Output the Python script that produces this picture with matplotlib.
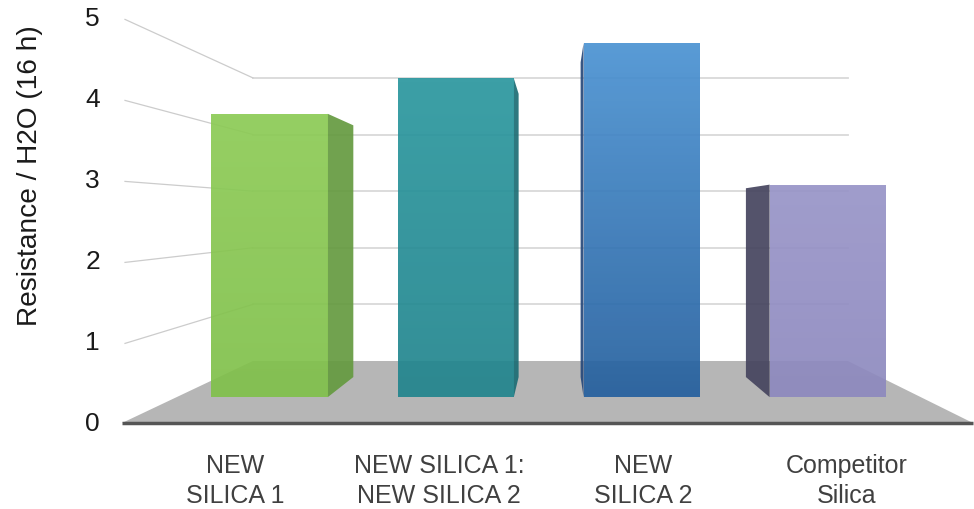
import numpy as np
import matplotlib
matplotlib.use("Agg")
import matplotlib.pyplot as plt
from matplotlib.patches import Polygon
from matplotlib.colors import LinearSegmentedColormap

# ---------------- data ----------------
categories = ["NEW\nSILICA 1", "NEW SILICA 1:\nNEW SILICA 2", "NEW\nSILICA 2", "Competitor\nSilica"]
values = [4.0, 4.5, 5.0, 3.0]
y_ticks = [0, 1, 2, 3, 4, 5]
y_label = "Resistance / H2O (16 h)"

# colours (front top, front bottom, side)
front_top = ["#8ccb55", "#2a979e", "#4a92d2", "#9894c8"]
front_bot = ["#80c04a", "#21848d", "#245f9e", "#8d89be"]
side_col = ["#659a40", "#1c6d74", "#26487a", "#45445e"]

plt.rcParams['font.family'] = ['Liberation Sans', 'DejaVu Sans']

fig = plt.figure(figsize=(9.74, 5.09), dpi=100)
ax = fig.add_axes([0, 0, 1, 1])
ax.set_xlim(0, 974)
ax.set_ylim(509, 0)
ax.axis('off')

# ---------------- perspective projection ----------------
FX0, FX1 = 122.0, 973.0      # front edge of floor (px)
FY0, FS = 423.0, 81.0        # floor front y and px per unit at front
CX, HY = 557.0, 217.0        # vanishing point
K = 0.4306                   # depth foreshortening
NCAT = len(categories)


def proj(u, v, z):
    X = FX0 + u * (FX1 - FX0) / NCAT
    Y = FY0 - v * FS
    s = 1.0 / (1.0 + K * z)
    return CX + (X - CX) * s, HY + (Y - HY) * s


def poly(pts, **kw):
    p = Polygon([proj(*q) for q in pts], closed=True, **kw)
    ax.add_patch(p)
    return p


def grad_poly(pts, c_top, c_bot, alpha, z):
    xy = np.array([proj(*q) for q in pts])
    p = Polygon(xy, closed=True, facecolor='none', edgecolor='none')
    ax.add_patch(p)
    cmap = LinearSegmentedColormap.from_list('g', [c_top, c_bot])
    x0, x1 = xy[:, 0].min(), xy[:, 0].max()
    y0, y1 = xy[:, 1].min(), xy[:, 1].max()
    grad = np.linspace(0, 1, 64).reshape(-1, 1)
    im = ax.imshow(grad, cmap=cmap, extent=(x0, x1, y1, y0), aspect='auto',
                   alpha=alpha, zorder=z, interpolation='bilinear')
    im.set_clip_path(p)


grid_c = "#d9d9d9"

# floor
poly([(0, 0, 0), (NCAT, 0, 0), (NCAT, 0, 1), (0, 0, 1)],
     facecolor="#b6b6b6", edgecolor='none', zorder=1)

# back wall + left wall gridlines
for v in y_ticks[1:]:
    xa, ya = proj(0, v, 1)
    xb, yb = proj(NCAT, v, 1)
    ax.plot([xa, xb], [ya, yb], color=grid_c, lw=1.3, zorder=2)
    xc, yc = proj(0, v, 0)
    ax.plot([xc + 3, xa], [yc + 1.4, ya], color="#cccccc", lw=0.9, zorder=2)

# front edge of floor
xa, ya = proj(0, 0, 0)
xb, yb = proj(NCAT, 0, 0)
ax.plot([xa, xb], [ya, yb], color="#555555", lw=2.5, zorder=3,
        solid_capstyle='butt')

# bars
half_w = 0.3125
z0, z1 = 1.0 / 3.0, 2.0 / 3.0
alpha = 0.92
for i, v in enumerate(values):
    ul, ur = i + 0.5 - half_w, i + 0.5 + half_w
    xl, _ = proj(ul, 0, z0)
    xr, _ = proj(ur, 0, z0)
    # visible side face
    if xr < CX:
        side = [(ur, 0, z0), (ur, 0, z1), (ur, v, z1), (ur, v, z0)]
    else:
        side = [(ul, 0, z0), (ul, 0, z1), (ul, v, z1), (ul, v, z0)]
    poly(side, facecolor=side_col[i], edgecolor='none', alpha=alpha, zorder=4)
    # top face if visible
    _, ytop = proj(ul, v, z0)
    if ytop > HY:
        poly([(ul, v, z0), (ur, v, z0), (ur, v, z1), (ul, v, z1)],
             facecolor=front_top[i], edgecolor='none', alpha=alpha, zorder=4)
    # front face
    grad_poly([(ul, 0, z0), (ur, 0, z0), (ur, v, z0), (ul, v, z0)],
              front_top[i], front_bot[i], alpha, 5)

# y tick labels
for t in y_ticks:
    x, y = proj(0, t, 0)
    ax.text(100, y + 1, str(t), ha='right', va='center', fontsize=19,
            color="#1a1a1a", zorder=6)

# y-axis title
ax.text(30, 176, y_label, rotation=90, ha='center', va='center',
        fontsize=20.2, color="#1a1a1a")

# category labels
for i, lab in enumerate(categories):
    ax.text(541 + (i - 1.5) * 204, 481, lab, ha='center', va='center',
            fontsize=18, color="#404040", linespacing=1.27)

fig.savefig("out.png", dpi=100)
